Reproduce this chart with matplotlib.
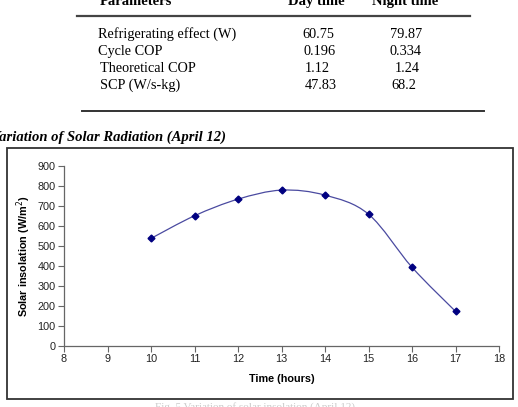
import numpy as np
import matplotlib
matplotlib.use("Agg")
import matplotlib.pyplot as plt
from matplotlib.path import Path
from matplotlib.patches import PathPatch, Rectangle

# ---- data ----
table_params = ["Refrigerating effect (W)", "Cycle COP", "Theoretical COP", "SCP (W/s-kg)"]
table_day = ["60.75", "0.196", "1.12", "47.83"]
table_night = ["79.87", "0.334", "1.24", "68.2"]
table_headers = ["Parameters", "Day time", "Night time"]

hours = [10, 11, 12, 13, 14, 15, 16, 17]
insolation = [537, 650, 733, 778, 753, 658, 393, 173]
x_ticks = [8, 9, 10, 11, 12, 13, 14, 15, 16, 17, 18]
y_ticks = [0, 100, 200, 300, 400, 500, 600, 700, 800, 900]

W, H = 518, 407
fig = plt.figure(figsize=(W / 100, H / 100), dpi=100)

def fx(px):
    return px / W

def fy(py):
    return 1 - py / H

serif = "Liberation Serif"
sans = "Liberation Sans"

# ---- table ----
fig.text(fx(100), fy(5), table_headers[0], family=serif, weight="bold", fontsize=10.5, va="baseline", ha="left")
fig.text(fx(288), fy(5), table_headers[1], family=serif, weight="bold", fontsize=10.5, va="baseline", ha="left")
fig.text(fx(372), fy(5), table_headers[2], family=serif, weight="bold", fontsize=10.5, va="baseline", ha="left")
fig.add_artist(plt.Line2D([fx(77), fx(470)], [fy(15.5), fy(15.5)], color="#444444", lw=1.6))
fig.add_artist(plt.Line2D([fx(82), fx(484)], [fy(110.5), fy(110.5)], color="#333333", lw=1.4))

row_y = [38, 55, 72, 89]
name_x = [98, 98, 100, 100]
day_x = [302, 303, 305, 305]
night_x = [390, 389, 395, 391]
for i in range(len(table_params)):
    fig.text(fx(name_x[i]), fy(row_y[i]), table_params[i], family=serif, fontsize=10.3, va="baseline", ha="left")
    fig.text(fx(day_x[i]), fy(row_y[i]), table_day[i], family=serif, fontsize=10.3, va="baseline", ha="left")
    fig.text(fx(night_x[i]), fy(row_y[i]), table_night[i], family=serif, fontsize=10.3, va="baseline", ha="left")

# ---- title ----
fig.text(fx(-9), fy(141), "Variation of Solar Radiation (April 12)", family=serif,
         weight="bold", style="italic", fontsize=10.5, va="baseline", ha="left")

# ---- chart frame ----
fig.add_artist(Rectangle((fx(6.5), fy(398.5)), fx(513) - fx(6.5), fy(148) - fy(398.5),
                         fill=False, edgecolor="#333333", lw=1.3, transform=fig.transFigure))

# ---- axes ----
ax = fig.add_axes([fx(64), fy(346), fx(499) - fx(64), fy(165.7) - fy(346)])
ax.set_xlim(8, 18)
ax.set_ylim(0, 900)
ax.set_xticks(x_ticks)
ax.set_yticks(y_ticks)
for s in ["top", "right"]:
    ax.spines[s].set_visible(False)
for s in ["left", "bottom"]:
    ax.spines[s].set_color("#666666")
    ax.spines[s].set_linewidth(0.9)
ax.tick_params(axis="both", direction="out", length=4, width=0.8, color="#666666",
               labelsize=7.8, labelcolor="#222222", pad=2)
for lab in ax.get_xticklabels() + ax.get_yticklabels():
    lab.set_family(sans)
ax.set_xlabel("Time (hours)", family=sans, weight="bold", fontsize=7.8, labelpad=7)
ax.set_ylabel("Solar insolation (W/m$^2$)", family=sans, weight="bold", fontsize=7.8, labelpad=3)
ax.patch.set_alpha(0)

# smoothed line (Catmull-Rom style Bezier through data points)
xs = np.array(hours, dtype=float)
ys = np.array(insolation, dtype=float)
verts = [(xs[0], ys[0])]
codes = [Path.MOVETO]
n = len(xs)
t = 1 / 6
for i in range(n - 1):
    p0 = np.array([xs[max(i - 1, 0)], ys[max(i - 1, 0)]])
    p1 = np.array([xs[i], ys[i]])
    p2 = np.array([xs[i + 1], ys[i + 1]])
    p3 = np.array([xs[min(i + 2, n - 1)], ys[min(i + 2, n - 1)]])
    c1 = p1 + (p2 - p0) * t
    c2 = p2 - (p3 - p1) * t
    verts += [tuple(c1), tuple(c2), tuple(p2)]
    codes += [Path.CURVE4] * 3
ax.add_patch(PathPatch(Path(verts, codes), fill=False, edgecolor="#4a4aa0", lw=0.9))
ax.plot(hours, insolation, linestyle="none", marker="D", markersize=3.5, color="#000080")

# ---- faint caption ----
fig.text(fx(155), fy(410), "Fig. 5 Variation of solar insolation (April 12)", family=serif,
         fontsize=8, color="#cccccc", va="baseline", ha="left")

fig.savefig("out.png", dpi=100)
